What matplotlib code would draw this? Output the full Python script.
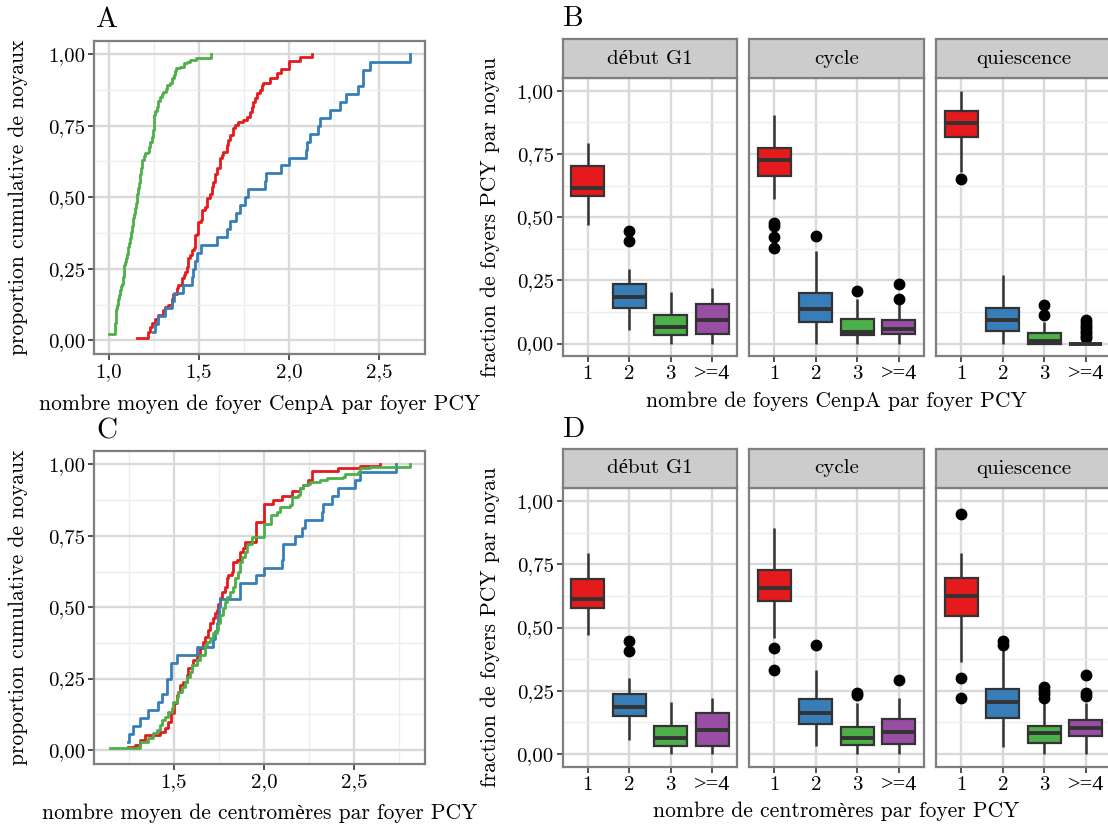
import numpy as np
import matplotlib.pyplot as plt
from matplotlib.ticker import FuncFormatter
from matplotlib.transforms import blended_transform_factory, offset_copy

plt.rcParams['font.family'] = ['cmr10', 'Liberation Serif', 'DejaVu Serif']
plt.rcParams['mathtext.fontset'] = 'cm'
plt.rcParams['axes.unicode_minus'] = False
plt.rcParams['axes.formatter.use_mathtext'] = True

# ---- data: ECDF curves (panel A: CenpA, panel C: centromeres) ----
# red / green curves traced as step vertices, blue curves as raw values (n=36)
cenpa_red_x = [1.154, 1.219, 1.228, 1.240, 1.255, 1.274, 1.302, 1.311, 1.330, 1.348, 1.357, 1.376, 1.385, 1.404,
               1.419, 1.422, 1.431, 1.441, 1.450, 1.459, 1.472, 1.478, 1.487, 1.496, 1.511, 1.519, 1.533, 1.543,
               1.561, 1.570, 1.580, 1.589, 1.598, 1.617, 1.626, 1.635, 1.654, 1.663, 1.672, 1.691, 1.700, 1.719,
               1.746, 1.765, 1.783, 1.793, 1.802, 1.811, 1.820, 1.839, 1.848, 1.857, 1.893, 1.935, 1.955, 2.0,
               2.06, 2.126]
cenpa_red_y = [0.009, 0.03, 0.047, 0.06, 0.075, 0.09, 0.105, 0.117, 0.125, 0.146, 0.163, 0.181, 0.193, 0.216,
               0.228, 0.239, 0.257, 0.286, 0.298, 0.315, 0.321, 0.368, 0.373, 0.414, 0.420, 0.455, 0.467, 0.496,
               0.513, 0.537, 0.554, 0.583, 0.601, 0.636, 0.648, 0.659, 0.683, 0.700, 0.718, 0.741, 0.753, 0.764,
               0.770, 0.782, 0.799, 0.817, 0.834, 0.846, 0.863, 0.875, 0.893, 0.898, 0.916, 0.933, 0.947, 0.978,
               0.991, 1.0]
cenpa_green_x = [1.000, 1.032, 1.036, 1.039, 1.041, 1.047, 1.051, 1.056, 1.060, 1.068, 1.075, 1.078, 1.082, 1.088,
                 1.094, 1.100, 1.107, 1.112, 1.116, 1.120, 1.125, 1.130, 1.135, 1.140, 1.144, 1.149, 1.154, 1.158,
                 1.163, 1.168, 1.172, 1.175, 1.178, 1.182, 1.185, 1.195, 1.200, 1.219, 1.224, 1.228, 1.240, 1.247,
                 1.251, 1.258, 1.266, 1.275, 1.285, 1.295, 1.303, 1.315, 1.322, 1.341, 1.350, 1.360, 1.368, 1.375,
                 1.397, 1.416, 1.434, 1.453, 1.481, 1.509, 1.566]
cenpa_green_y = [0.022, 0.04, 0.06, 0.08, 0.111, 0.125, 0.146, 0.16, 0.175, 0.19, 0.198, 0.22, 0.263, 0.275,
                 0.286, 0.30, 0.327, 0.34, 0.356, 0.37, 0.379, 0.40, 0.426, 0.44, 0.461, 0.48, 0.496, 0.51,
                 0.531, 0.55, 0.566, 0.58, 0.601, 0.615, 0.630, 0.645, 0.653, 0.659, 0.675, 0.694, 0.71, 0.735,
                 0.788, 0.80, 0.817, 0.835, 0.852, 0.86, 0.869, 0.88, 0.893, 0.898, 0.916, 0.928, 0.94, 0.953,
                 0.957, 0.968, 0.974, 0.980, 0.986, 0.988, 1.0]
cenpa_blue = [1.246, 1.255, 1.274, 1.311, 1.352, 1.362, 1.410, 1.459, 1.468, 1.478, 1.487, 1.513, 1.598, 1.654,
              1.672, 1.707, 1.726, 1.754, 1.772, 1.865, 1.870, 1.957, 2.0, 2.096, 2.1, 2.115, 2.161, 2.170,
              2.226, 2.281, 2.319, 2.383, 2.411, 2.411, 2.448, 2.670]

centro_red_x = [1.246, 1.283, 1.311, 1.339, 1.422, 1.450, 1.469, 1.481, 1.50, 1.519, 1.525, 1.533, 1.552, 1.570,
                1.580, 1.598, 1.607, 1.626, 1.644, 1.663, 1.672, 1.691, 1.700, 1.719, 1.728, 1.737, 1.746, 1.756,
                1.765, 1.783, 1.793, 1.802, 1.820, 1.830, 1.848, 1.867, 1.885, 1.894, 1.956, 2.0, 2.052, 2.098,
                2.154, 2.2, 2.219, 2.246, 2.265, 2.413, 2.533, 2.644]
centro_red_y = [0.012, 0.018, 0.035, 0.053, 0.064, 0.076, 0.099, 0.128, 0.165, 0.193, 0.204, 0.228, 0.239, 0.263,
                0.286, 0.298, 0.315, 0.333, 0.356, 0.379, 0.397, 0.420, 0.443, 0.461, 0.478, 0.490, 0.513, 0.531,
                0.554, 0.572, 0.601, 0.613, 0.624, 0.659, 0.665, 0.694, 0.706, 0.727, 0.799, 0.860, 0.875, 0.890,
                0.907, 0.916, 0.928, 0.945, 0.977, 0.986, 0.994, 1.0]
centro_green_x = [1.144, 1.313, 1.357, 1.385, 1.404, 1.422, 1.431, 1.450, 1.469, 1.487, 1.496, 1.515, 1.524, 1.543,
                  1.561, 1.570, 1.589, 1.598, 1.626, 1.644, 1.672, 1.681, 1.700, 1.719, 1.737, 1.746, 1.756, 1.770,
                  1.783, 1.793, 1.811, 1.830, 1.839, 1.857, 1.867, 1.876, 1.894, 1.904, 1.913, 1.931, 2.0, 2.038,
                  2.070, 2.089, 2.144, 2.154, 2.191, 2.2, 2.219, 2.237, 2.256, 2.311, 2.348, 2.441, 2.450, 2.524,
                  2.533, 2.589, 2.811]
centro_green_y = [0.008, 0.029, 0.041, 0.058, 0.070, 0.088, 0.105, 0.117, 0.134, 0.146, 0.169, 0.187, 0.204, 0.222,
                  0.239, 0.257, 0.274, 0.298, 0.315, 0.333, 0.368, 0.379, 0.391, 0.408, 0.420, 0.443, 0.473, 0.496,
                  0.519, 0.537, 0.554, 0.572, 0.601, 0.624, 0.659, 0.677, 0.694, 0.718, 0.723, 0.747, 0.793, 0.823,
                  0.834, 0.852, 0.858, 0.887, 0.893, 0.916, 0.928, 0.933, 0.939, 0.945, 0.951, 0.957, 0.968, 0.974,
                  0.986, 0.992, 1.0]
centro_blue = [1.246, 1.252, 1.274, 1.311, 1.357, 1.413, 1.431, 1.459, 1.459, 1.481, 1.481, 1.519, 1.630, 1.719,
               1.728, 1.741, 1.746, 1.750, 1.756, 1.867, 1.867, 1.956, 2.0, 2.098, 2.103, 2.107, 2.172, 2.209,
               2.228, 2.320, 2.330, 2.376, 2.413, 2.506, 2.533, 2.733]

# ---- data: boxplots (panels B and D), one row per facet, one value per category ----
facets = ['début G1', 'cycle', 'quiescence']
categories = ['1', '2', '3', '>=4']

cenpa_whislo = [[0.468, 0.055, 0.0, 0.0], [0.571, 0.0, 0.0, 0.0], [0.679, 0.0, 0.0, 0.0]]
cenpa_q1 = [[0.583, 0.139, 0.033, 0.036], [0.662, 0.086, 0.033, 0.037], [0.818, 0.050, 0.0, 0.0]]
cenpa_med = [[0.616, 0.185, 0.066, 0.092], [0.728, 0.135, 0.045, 0.057], [0.871, 0.092, 0.011, 0.0]]
cenpa_q3 = [[0.702, 0.235, 0.112, 0.158], [0.774, 0.199, 0.099, 0.092], [0.921, 0.139, 0.042, 0.0]]
cenpa_whishi = [[0.792, 0.297, 0.204, 0.218], [0.904, 0.367, 0.178, 0.158], [1.0, 0.270, 0.085, 0.0]]
cenpa_fliers = [[[], [0.445, 0.406], [], []],
                [[0.478, 0.465, 0.420, 0.380], [0.427], [0.207], [0.235, 0.178]],
                [[0.650], [], [0.152, 0.112], [0.092, 0.080, 0.070, 0.060, 0.050, 0.040, 0.030, 0.022]]]

centro_whislo = [[0.470, 0.055, 0.0, 0.0], [0.460, 0.032, 0.0, 0.0], [0.365, 0.029, 0.0, 0.0]]
centro_q1 = [[0.578, 0.152, 0.033, 0.033], [0.605, 0.117, 0.036, 0.038], [0.545, 0.141, 0.042, 0.072]]
centro_med = [[0.611, 0.187, 0.065, 0.095], [0.655, 0.161, 0.062, 0.088], [0.625, 0.207, 0.082, 0.101]]
centro_q3 = [[0.690, 0.236, 0.112, 0.161], [0.727, 0.217, 0.105, 0.138], [0.697, 0.257, 0.112, 0.134]]
centro_whishi = [[0.793, 0.299, 0.207, 0.220], [0.895, 0.332, 0.200, 0.220], [0.793, 0.418, 0.207, 0.200]]
centro_fliers = [[[], [0.447, 0.408], [], []],
                 [[0.420, 0.332], [0.431], [0.240, 0.235], [0.292]],
                 [[0.947, 0.299, 0.220], [0.447, 0.431], [0.266, 0.250, 0.236, 0.223], [0.312, 0.242, 0.228]]]

# ---- style ----
RED, BLUE, GREEN, PURPLE = '#E41A1C', '#377EB8', '#4DAF4A', '#984EA3'
box_colors = [RED, BLUE, GREEN, PURPLE]
BORDER = '#7F7F7F'
GRID_MAJ = '#D9D9D9'
GRID_MIN = '#EDEDED'
INK = '#333333'
TICK_FS = 15
LAB_FS = 15.5
TICK_LEN, TICK_PAD = 4.5, 2

W, H = 1108, 830
fig = plt.figure(figsize=(W / 100, H / 100), dpi=100)


def add_ax(x0, y0, x1, y1):
    # pixel box (top-left origin) -> figure fraction
    return fig.add_axes([x0 / W, 1 - y1 / H, (x1 - x0) / W, (y1 - y0) / H])


def comma(fmt):
    return FuncFormatter(lambda v, p: format(v, fmt).replace('.', ','))


def style_panel(ax):
    for s in ax.spines.values():
        s.set_color(BORDER)
        s.set_linewidth(1.6)
    ax.tick_params(which='major', direction='out', length=TICK_LEN, width=1.2, color=INK,
                   labelsize=TICK_FS, pad=TICK_PAD, labelcolor='black')
    ax.tick_params(which='minor', length=0)
    ax.set_axisbelow(True)


def ecdf_panel(ax, red_x, red_y, blue, green_x, green_y, xlim, ylim, xticks):
    style_panel(ax)
    ax.set_xlim(*xlim)
    ax.set_ylim(*ylim)
    ax.set_xticks(xticks)
    ax.set_xticks([1.25, 1.75, 2.25, 2.75], minor=True)
    ax.set_yticks([0, 0.25, 0.5, 0.75, 1.0])
    ax.set_yticks([0.125, 0.375, 0.625, 0.875], minor=True)
    ax.xaxis.set_major_formatter(comma('.1f'))
    ax.yaxis.set_major_formatter(comma('.2f'))
    ax.grid(which='major', color=GRID_MAJ, lw=1.7)
    ax.grid(which='minor', color=GRID_MIN, lw=1.0)
    bx = np.sort(blue)
    by = np.arange(1, len(bx) + 1) / len(bx)
    ax.step(red_x, red_y, where='post', color=RED, lw=2.0)
    ax.step(bx, by, where='post', color=BLUE, lw=2.0)
    ax.step(green_x, green_y, where='post', color=GREEN, lw=2.0)


def box_facets(strip_top, top, bottom, whislo, q1, med, q3, whishi, fliers):
    xs = [(562.7, 737.1), (749.3, 923.7), (936.4, 1110.8)]
    pos = np.arange(1, len(categories) + 1)
    for f, (x0, x1) in enumerate(xs):
        ax = add_ax(x0, top, x1, bottom)
        style_panel(ax)
        stats = []
        for c in range(len(categories)):
            stats.append(dict(whislo=whislo[f][c], q1=q1[f][c], med=med[f][c], q3=q3[f][c],
                              whishi=whishi[f][c], fliers=fliers[f][c]))
        bp = ax.bxp(stats, positions=pos, widths=0.8, patch_artist=True, showcaps=False,
                    manage_ticks=False,
                    boxprops=dict(edgecolor=INK, linewidth=1.6),
                    medianprops=dict(color=INK, linewidth=2.8, solid_capstyle='butt'),
                    whiskerprops=dict(color=INK, linewidth=1.8, solid_capstyle='butt'),
                    flierprops=dict(marker='o', markerfacecolor='black', markeredgecolor='black',
                                    markersize=7.5))
        for patch, col in zip(bp['boxes'], box_colors):
            patch.set_facecolor(col)
        ax.set_xlim(0.4, 4.6)
        ax.set_ylim(-0.05, 1.05)
        ax.set_yticks([0, 0.25, 0.5, 0.75, 1.0])
        ax.set_yticks([0.125, 0.375, 0.625, 0.875], minor=True)
        ax.yaxis.set_major_formatter(comma('.2f'))
        ax.set_xticks(pos)
        # cmr10 has no usable '>' / '=' glyphs: draw that label in another serif
        ax.set_xticklabels(categories[:-1] + [''])
        tr = offset_copy(blended_transform_factory(ax.transData, ax.transAxes), fig=fig,
                         y=-(TICK_LEN + TICK_PAD), units='points')
        ax.text(pos[-1], 0, categories[-1], transform=tr, ha='center', va='top',
                fontsize=TICK_FS + 1, family=['Liberation Serif'])
        ax.xaxis.grid(True, which='major', color=GRID_MAJ, lw=1.7)
        ax.yaxis.grid(True, which='major', color=GRID_MAJ, lw=1.7)
        ax.yaxis.grid(True, which='minor', color=GRID_MIN, lw=1.0)
        if f > 0:
            ax.tick_params(axis='y', which='both', length=0, labelleft=False)
        # strip
        st = add_ax(x0, strip_top, x1, top)
        st.set_facecolor('#CCCCCC')
        st.set_xticks([])
        st.set_yticks([])
        for s in st.spines.values():
            s.set_color(BORDER)
            s.set_linewidth(1.6)
        st.text(0.5, 0.5, facets[f], ha='center', va='center', fontsize=TICK_FS, transform=st.transAxes)


def ftext(x, y, s, **kw):
    fig.text(x / W, 1 - y / H, s, **kw)


# panel A
axA = add_ax(94, 40.5, 425, 354)
ecdf_panel(axA, cenpa_red_x, cenpa_red_y, cenpa_blue, cenpa_green_x, cenpa_green_y,
           (0.917, 2.756), (-0.048, 1.048), [1.0, 1.5, 2.0, 2.5])

# panel C
axC = add_ax(94, 450.7, 425, 764.3)
ecdf_panel(axC, centro_red_x, centro_red_y, centro_blue, centro_green_x, centro_green_y,
           (1.056, 2.894), (-0.05, 1.048), [1.5, 2.0, 2.5])

# panels B and D
box_facets(39, 78.2, 356.2, cenpa_whislo, cenpa_q1, cenpa_med, cenpa_q3, cenpa_whishi, cenpa_fliers)
box_facets(448.7, 488.3, 766.7, centro_whislo, centro_q1, centro_med, centro_q3, centro_whishi, centro_fliers)

# labels
ftext(259.5, 404, 'nombre moyen de foyer CenpA par foyer PCY', ha='center', va='center', fontsize=LAB_FS)
ftext(259.5, 813, 'nombre moyen de centromères par foyer PCY', ha='center', va='center', fontsize=LAB_FS)
ftext(18, 197, 'proportion cumulative de noyaux', ha='center', va='center', rotation=90, fontsize=LAB_FS)
ftext(18, 607, 'proportion cumulative de noyaux', ha='center', va='center', rotation=90, fontsize=LAB_FS)
ftext(836, 401, 'nombre de foyers CenpA par foyer PCY', ha='center', va='center', fontsize=LAB_FS)
ftext(836, 811, 'nombre de centromères par foyer PCY', ha='center', va='center', fontsize=LAB_FS)
ftext(490, 217, 'fraction de foyers PCY par noyau', ha='center', va='center', rotation=90, fontsize=LAB_FS)
ftext(490, 627, 'fraction de foyers PCY par noyau', ha='center', va='center', rotation=90, fontsize=LAB_FS)

ftext(96, 20, 'A', ha='left', va='center', fontsize=21)
ftext(563, 19, 'B', ha='left', va='center', fontsize=21)
ftext(96, 431, 'C', ha='left', va='center', fontsize=21)
ftext(563, 430, 'D', ha='left', va='center', fontsize=21)

fig.savefig('out.png', dpi=100)
